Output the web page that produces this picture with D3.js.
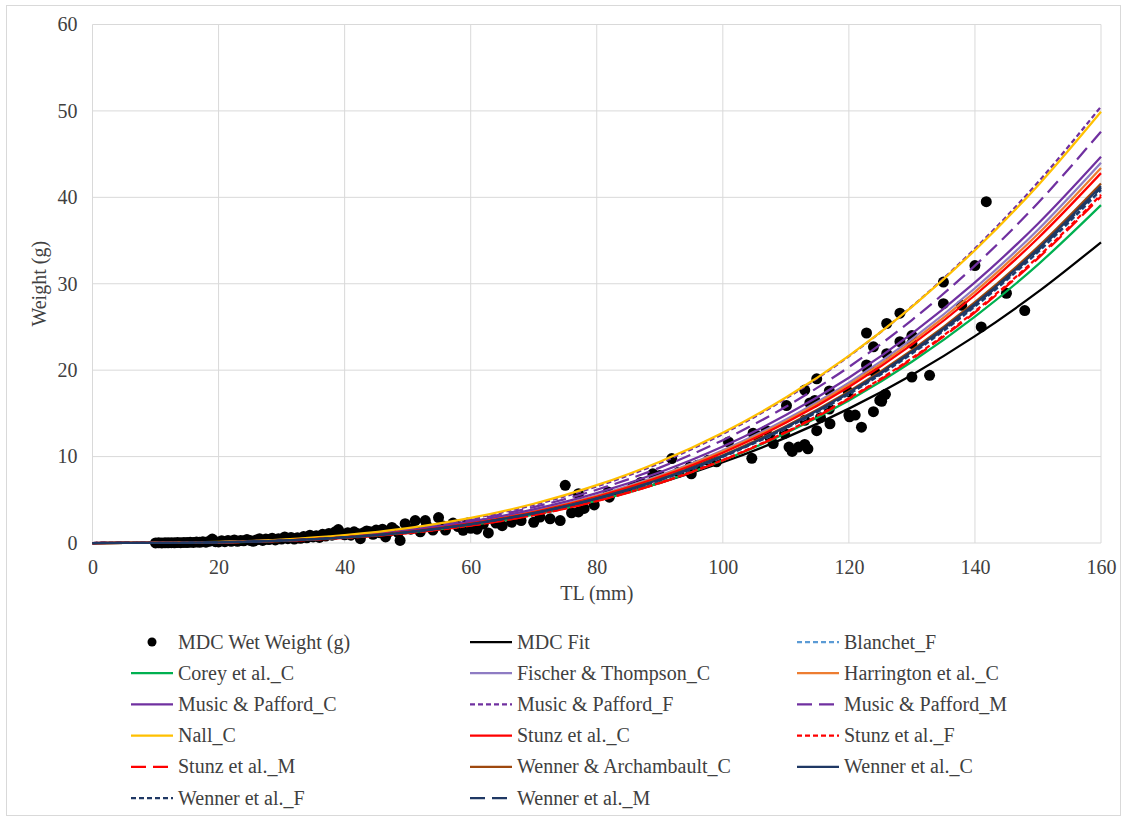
<!DOCTYPE html>
<html lang="en">
  <head>
    <meta charset="UTF-8" />
    <title>TL vs Weight</title>
    <script src="https://d3js.org/d3.v7.min.js"></script>
    <style>
      body {
        margin: 0;
        background: #fff;
      }
    </style>
  </head>
  <body>
    <svg id="chart" width="1128" height="822"></svg>

    <script>
      // Observed fish (total length mm, wet weight g)
      const obsTL = [
        10, 10.5, 11, 11.5, 12, 12.5, 13, 13.5, 14, 14.5, 15, 15.5, 16, 16.5,
        17, 17.5, 18, 18.5, 19, 19.5, 20, 20.5, 21, 21.5, 22, 22.5, 23, 23.5,
        24, 24.5, 25, 25.5, 26, 26.5, 27, 27.5, 28, 28.5, 29, 29.5, 30, 30.5,
        31, 31.5, 32, 32.5, 33, 33.5, 34, 34.5, 35, 35.5, 36, 36.5, 37, 37.5,
        38, 38.5, 39, 39.5, 40, 40.5, 41, 41.5, 42, 42.5, 43, 43.5, 44, 44.5,
        45, 45.5, 46, 46.5, 47, 47.5, 48, 48.5, 48.8, 49.6, 50.5, 51.2, 52,
        52.8, 53, 54, 54.9, 55.5, 56, 57.2, 58, 58.8, 59.5, 60, 61, 62, 62.8,
        64, 65, 66.5, 68, 70, 71, 72.6, 74.2, 75, 76, 77.1, 77.1, 78, 79.6,
        81.8, 82, 85.7, 87, 88.9, 89.5, 90, 91.9, 93, 94.8, 95, 96, 97.7, 99,
        100.9, 104.6, 104.8, 105.5, 106.9, 107.5, 108, 109.8, 110.1, 110.5,
        111, 112, 113, 113, 113, 113.5, 113.8, 114.5, 114.6, 114.9, 114.9,
        115.5, 116.9, 116.9, 117, 119.9, 120, 120.1, 121, 122, 122.8, 122.8,
        123, 123.9, 123.9, 124.1, 124.9, 125.2, 125.2, 125.8, 126, 126, 128.1,
        128.1, 130, 130, 130, 132.8, 135, 135, 137.9, 140, 141, 141.8, 145,
        147.9,
      ];
      const obsWt = [
        0.01, 0.02, 0.01, 0.03, 0.02, 0.04, 0.03, 0.05, 0.04, 0.06, 0.05, 0.1,
        0.06, 0.12, 0.08, 0.15, 0.1, 0.2, 0.45, 0.15, 0.12, 0.25, 0.15, 0.3,
        0.2, 0.35, 0.2, 0.3, 0.25, 0.4, 0.3, 0.2, 0.35, 0.5, 0.3, 0.45, 0.4,
        0.55, 0.35, 0.5, 0.45, 0.7, 0.5, 0.65, 0.45, 0.6, 0.55, 0.75, 0.6, 0.9,
        0.7, 0.85, 0.65, 1.0, 0.8, 1.1, 0.9, 1.3, 1.55, 1.1, 0.95, 1.2, 0.9,
        1.3, 1.1, 0.5, 1.2, 1.4, 1.3, 1.0, 1.5, 1.2, 1.6, 0.7, 1.3, 1.8, 1.5,
        1.2, 0.3, 2.24, 1.6, 2.6, 1.3, 2.6, 2.05, 1.5, 2.94, 2.0, 1.5, 2.3, 1.9,
        1.47, 2.3, 1.7, 1.6, 2.2, 1.16, 2.3, 2.0, 2.4, 2.6, 2.4, 3.0, 2.8, 2.6,
        6.68, 3.5, 3.6, 5.7, 4.0, 4.4, 5.9, 5.3, 6.5, 7.0, 8.0, 7.6, 7.8, 9.77,
        8.2, 8.8, 8.0, 9.0, 9.57, 9.4, 11.7, 9.8, 12.7, 12.4, 13.0, 12.2, 11.5,
        12.7, 15.9, 11.1, 10.6, 11.1, 17.7, 14.2, 11.4, 10.9, 16.2, 16.3, 16.5,
        19.0, 13.0, 14.5, 17.6, 15.5, 13.8, 17.5, 14.8, 14.6, 14.8, 13.4, 20.6,
        24.3, 20.0, 22.7, 15.2, 19.8, 16.5, 16.7, 16.4, 17.2, 25.4, 21.9, 26.6,
        23.3, 24.0, 23.1, 19.2, 19.4, 30.2, 27.7, 27.5, 32.1, 25.0, 39.5, 28.9,
        26.9,
      ];

      // Length-weight curves, read every 10 mm from 0 to 160
      const curveTL = [0, 10, 20, 30, 40, 50, 60, 70, 80, 90, 100, 110, 120, 130, 140, 150, 160];
      const mdcFit = [0, 0.01, 0.1, 0.32, 0.72, 1.34, 2.23, 3.44, 5.0, 6.95, 9.34, 12.19, 15.55, 19.45, 23.94, 29.05, 34.8];
      const blanchetF = [0, 0.01, 0.08, 0.27, 0.64, 1.25, 2.15, 3.42, 5.1, 7.26, 9.96, 13.26, 17.21, 21.88, 27.33, 33.62, 40.8];
      const coreyC = [0, 0.01, 0.08, 0.26, 0.61, 1.19, 2.06, 3.27, 4.89, 6.96, 9.55, 12.71, 16.5, 20.97, 26.19, 32.22, 39.1];
      const fischerC = [0, 0.01, 0.09, 0.29, 0.69, 1.34, 2.32, 3.68, 5.5, 7.83, 10.74, 14.3, 18.56, 23.6, 29.48, 36.25, 44.0];
      const harringtonC = [0, 0.01, 0.08, 0.29, 0.68, 1.32, 2.29, 3.63, 5.43, 7.72, 10.6, 14.1, 18.31, 23.28, 29.07, 35.76, 43.4];
      const musicC = [0, 0.01, 0.1, 0.32, 0.75, 1.45, 2.48, 3.9, 5.78, 8.19, 11.17, 14.8, 19.13, 24.23, 30.15, 36.95, 44.7];
      const musicF = [0, 0.01, 0.11, 0.36, 0.85, 1.63, 2.8, 4.41, 6.54, 9.25, 12.62, 16.72, 21.61, 27.37, 34.06, 41.74, 50.5];
      const musicM = [0, 0.01, 0.1, 0.34, 0.8, 1.54, 2.64, 4.15, 6.16, 8.72, 11.9, 15.76, 20.37, 25.8, 32.1, 39.35, 47.6];
      const nallC = [0, 0.02, 0.12, 0.39, 0.9, 1.71, 2.9, 4.54, 6.69, 9.41, 12.77, 16.83, 21.66, 27.33, 33.88, 41.38, 49.9];
      const stunzC = [0, 0.01, 0.08, 0.28, 0.67, 1.31, 2.26, 3.58, 5.35, 7.62, 10.45, 13.91, 18.06, 22.96, 28.67, 35.27, 42.8];
      const stunzF = [0, 0.01, 0.07, 0.24, 0.59, 1.16, 2.02, 3.24, 4.87, 6.97, 9.61, 12.85, 16.76, 21.39, 26.82, 33.1, 40.3];
      const stunzM = [0, 0.01, 0.07, 0.24, 0.58, 1.15, 2.01, 3.22, 4.84, 6.93, 9.56, 12.79, 16.68, 21.29, 26.68, 32.94, 40.1];
      const wennerArchC = [0, 0.01, 0.08, 0.27, 0.65, 1.27, 2.19, 3.48, 5.2, 7.4, 10.16, 13.52, 17.55, 22.31, 27.87, 34.28, 41.6];
      const wennerC = [0, 0.01, 0.08, 0.27, 0.65, 1.26, 2.18, 3.46, 5.16, 7.35, 10.08, 13.42, 17.42, 22.15, 27.67, 34.03, 41.3];
      const wennerF = [0, 0.01, 0.08, 0.27, 0.64, 1.25, 2.16, 3.43, 5.11, 7.28, 9.99, 13.29, 17.25, 21.94, 27.4, 33.7, 40.9];
      const wennerM = [0, 0.01, 0.08, 0.27, 0.64, 1.25, 2.17, 3.44, 5.14, 7.31, 10.03, 13.36, 17.34, 22.05, 27.53, 33.87, 41.1];

      const xTicks = [0, 20, 40, 60, 80, 100, 120, 140, 160];
      const yTicks = [0, 10, 20, 30, 40, 50, 60];

      const series = [
        { name: "MDC Fit", values: mdcFit, color: "#000000", dash: null },
        { name: "Blanchet_F", values: blanchetF, color: "#5b9bd5", dash: "5,3" },
        { name: "Corey et al._C", values: coreyC, color: "#00b050", dash: null },
        { name: "Fischer & Thompson_C", values: fischerC, color: "#8e7cc3", dash: null },
        { name: "Harrington et al._C", values: harringtonC, color: "#ed7d31", dash: null },
        { name: "Music & Pafford_C", values: musicC, color: "#7030a0", dash: null },
        { name: "Music & Pafford_F", values: musicF, color: "#7030a0", dash: "5,3" },
        { name: "Music & Pafford_M", values: musicM, color: "#7030a0", dash: "15,7" },
        { name: "Nall_C", values: nallC, color: "#ffc000", dash: null },
        { name: "Stunz et al._C", values: stunzC, color: "#ff0000", dash: null },
        { name: "Stunz et al._F", values: stunzF, color: "#ff0000", dash: "5,3" },
        { name: "Stunz et al._M", values: stunzM, color: "#ff0000", dash: "15,7" },
        { name: "Wenner & Archambault_C", values: wennerArchC, color: "#9e480e", dash: null },
        { name: "Wenner et al._C", values: wennerC, color: "#1f3864", dash: null },
        { name: "Wenner et al._F", values: wennerF, color: "#1f3864", dash: "5,3" },
        { name: "Wenner et al._M", values: wennerM, color: "#1f3864", dash: "15,7" },
      ];

      const FONT = "Liberation Serif";
      const svg = d3.select("#chart");

      // outer chart border
      svg.append("rect")
        .attr("x", 6.5).attr("y", 5.5)
        .attr("width", 1114).attr("height", 810)
        .attr("fill", "#fff")
        .attr("stroke", "#d9d9d9");

      const x = d3.scaleLinear().domain([0, 160]).range([92.5, 1101]);
      const y = d3.scaleLinear().domain([0, 60]).range([543, 24.5]);

      // gridlines
      svg.append("g")
        .selectAll("line")
        .data(yTicks)
        .join("line")
        .attr("x1", x(0)).attr("x2", x(160))
        .attr("y1", (d) => y(d)).attr("y2", (d) => y(d))
        .attr("stroke", "#d9d9d9");
      svg.append("g")
        .selectAll("line")
        .data(xTicks)
        .join("line")
        .attr("x1", (d) => x(d)).attr("x2", (d) => x(d))
        .attr("y1", y(0)).attr("y2", y(60))
        .attr("stroke", "#d9d9d9");

      // axes (labels only, Excel-like)
      const xAxis = svg.append("g")
        .attr("transform", `translate(0,${y(0)})`)
        .call(d3.axisBottom(x).tickValues(xTicks).tickSize(0).tickPadding(12));
      const yAxis = svg.append("g")
        .attr("transform", `translate(${x(0)},0)`)
        .call(d3.axisLeft(y).tickValues(yTicks).tickSize(0).tickPadding(15));
      [xAxis, yAxis].forEach((a) => {
        a.select(".domain").remove();
        a.selectAll("text")
          .style("font-family", FONT)
          .style("font-size", "20px")
          .attr("fill", "#404040");
      });
      xAxis.selectAll("text").attr("dy", "0.93em");

      svg.append("text")
        .attr("x", x(80)).attr("y", 600)
        .attr("text-anchor", "middle")
        .style("font-family", FONT)
        .style("font-size", "20px")
        .attr("fill", "#404040")
        .text("TL (mm)");
      svg.append("text")
        .attr("transform", `translate(46,${y(30)}) rotate(-90)`)
        .attr("text-anchor", "middle")
        .style("font-family", FONT)
        .style("font-size", "20px")
        .attr("fill", "#404040")
        .text("Weight (g)");

      // observed points
      svg.append("g")
        .selectAll("circle")
        .data(obsTL.map((d, i) => [d, obsWt[i]]))
        .join("circle")
        .attr("cx", (d) => x(d[0]))
        .attr("cy", (d) => y(d[1]))
        .attr("r", 5.5)
        .attr("fill", "#000");

      // fitted curves
      const line = d3.line()
        .x((d, i) => x(curveTL[i]))
        .y((d) => y(d))
        .curve(d3.curveMonotoneX);

      svg.append("g")
        .selectAll("path")
        .data(series)
        .join("path")
        .attr("d", (d) => line(d.values))
        .attr("fill", "none")
        .attr("stroke", (d) => d.color)
        .attr("stroke-width", 2.25)
        .attr("stroke-dasharray", (d) => d.dash);

      // legend
      const legendItems = [{ name: "MDC Wet Weight (g)", marker: true }].concat(series);
      const colX = [131, 470, 797];
      const rowY = (r) => 642 + r * 31.2;
      const lg = svg.append("g")
        .selectAll("g")
        .data(legendItems)
        .join("g")
        .attr("transform", (d, i) => `translate(${colX[i % 3]},${rowY(Math.floor(i / 3))})`);

      lg.filter((d) => d.marker)
        .append("circle")
        .attr("cx", 21).attr("cy", 0).attr("r", 4.5)
        .attr("fill", "#000");
      lg.filter((d) => !d.marker)
        .append("line")
        .attr("x1", 0).attr("x2", 42)
        .attr("y1", 0).attr("y2", 0)
        .attr("stroke", (d) => d.color)
        .attr("stroke-width", 2.25)
        .attr("stroke-dasharray", (d) => d.dash);
      lg.append("text")
        .attr("x", 47).attr("y", 0)
        .attr("dy", "0.33em")
        .style("font-family", FONT)
        .style("font-size", "20px")
        .attr("fill", "#404040")
        .text((d) => d.name);
    </script>
  </body>
</html>
